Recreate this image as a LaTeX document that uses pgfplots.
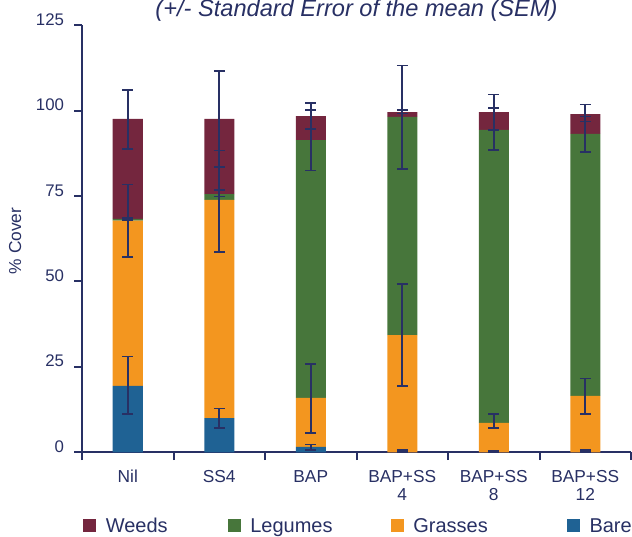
\documentclass[border=0pt]{standalone}
\usepackage{pgfplots}
\pgfplotsset{compat=1.18}
\usepackage{fontspec}
\setmainfont{Liberation Sans}
\definecolor{navy}{RGB}{40,48,100}
\definecolor{weeds}{RGB}{116,38,62}
\definecolor{legumes}{RGB}{71,118,59}
\definecolor{grasses}{RGB}{243,150,31}
\definecolor{bare}{RGB}{31,98,148}
\begin{document}
\begin{tikzpicture}
\begin{axis}[
  at={(0pt,0pt)}, anchor=south west,
  scale only axis, width=411.75pt, height=320.25pt,
  xmin=-0.5, xmax=5.5, ymin=0, ymax=125,
  ybar stacked, bar width=22.5pt,
  axis x line*=bottom, axis y line*=left,
  axis line style={navy, line width=1.5pt, -},
  xtick={-0.5,0.5,...,5.5},
  x tick label as interval,
  xticklabels={Nil, SS4, BAP, {BAP+SS\\4}, {BAP+SS\\8}, {BAP+SS\\12}},
  ytick={0,25,...,125},
  tick align=outside,
  major tick length=5.8pt,
  tick style={navy, line width=1.5pt},
  /pgf/number format/assume math mode=true,
  xticklabel style={font=\fontsize{13}{13.8}\selectfont, text=navy, align=center, anchor=north, inner sep=0pt, yshift=-7.5pt},
  yticklabel style={font=\fontsize{12.6}{14}\selectfont, text=navy, anchor=base east, inner sep=0pt, xshift=-7.5pt},
  title={(+/- Standard Error of the mean (SEM)},
  title style={font=\fontsize{17.7}{20}\selectfont\itshape, text=navy, at={(rel axis cs:0.5,1.0217)}, anchor=base, yshift=-6pt, inner sep=0pt},
  ylabel={\% Cover},
  ylabel style={font=\fontsize{13}{14}\selectfont, text=navy, at={(rel axis cs:-0.1111,0.4949)}, anchor=base, inner sep=0pt},
  legend columns=4,
  reverse legend,
  legend image code/.code={\fill[#1] (0pt,0.31pt) rectangle (10.1pt,10.43pt);},
  legend style={at={(rel axis cs:0.0018,-0.1543)}, anchor=north west, draw=none, fill=none, inner sep=0pt, outer sep=0pt, column sep=0pt, font=\fontsize{15}{18}\selectfont, text=navy, nodes={inner sep=0pt, anchor=base west}},
]
\addplot[fill=bare, draw=none] coordinates {(0,19.4) (1,10.0) (2,1.6) (3,0) (4,0) (5,0)};
\addlegendentry{\hspace*{7pt}Bare}
\addplot[fill=grasses, draw=none] coordinates {(0,48.4) (1,63.9) (2,14.3) (3,34.3) (4,8.6) (5,16.5)};
\addlegendentry{\makebox[122pt][l]{\hspace*{7pt}Grasses}}
\addplot[fill=legumes, draw=none] coordinates {(0,0.5) (1,1.7) (2,75.5) (3,63.9) (4,85.8) (5,76.7)};
\addlegendentry{\makebox[112.2pt][l]{\hspace*{7pt}Legumes}}
\addplot[fill=weeds, draw=none] coordinates {(0,29.3) (1,22.0) (2,7.0) (3,1.4) (4,5.2) (5,5.8)};
\addlegendentry{\makebox[98.3pt][l]{\hspace*{7pt}Weeds}}
\end{axis}
\begin{axis}[
  at={(0pt,0pt)}, anchor=south west,
  scale only axis, width=411.75pt, height=320.25pt,
  xmin=-0.5, xmax=5.5, ymin=0, ymax=125,
  hide axis,
]
\addplot[draw=none, mark=none, error bars/.cd, y dir=both, y explicit,
  error bar style={draw=navy, line width=1.3pt},
  error mark options={rotate=90, draw=navy, line width=1.3pt, mark size=4pt}]
coordinates {
  (0,19.6) +- (0,8.4)  (1,10.0) +- (0,2.8)  (2,1.5) +- (0,0.8)
  (3,0.4) +- (0,0.3)   (4,0.2) +- (0,0.15)  (5,0.4) +- (0,0.35)
  (0,67.8) +- (0,10.6) (1,73.45) +- (0,14.9) (2,15.8) +- (0,10.1)
  (3,34.4) +- (0,14.9) (4,9.2) +- (0,2.0)   (5,16.35) +- (0,5.25)
  (0,68.3) +- (0,0.3)  (1,75.85) +- (0,1.0) (2,91.35) +- (0,8.9)
  (3,98.05) +- (0,15.2) (4,94.6) +- (0,6.1) (5,93.05) +- (0,5.25)
  (0,97.45) +- (0,8.6) (1,97.6) +- (0,14.0) (2,98.4) +- (0,3.8)
  (3,99.7) +- (0,0.5)  (4,99.55) +- (0,5.15) (5,99.3) +- (0,2.5)
};
\end{axis}
\pgfresetboundingbox
\path (-61.5pt,-62.8pt) rectangle (412.5pt,339.2pt);
\end{tikzpicture}
\end{document}
